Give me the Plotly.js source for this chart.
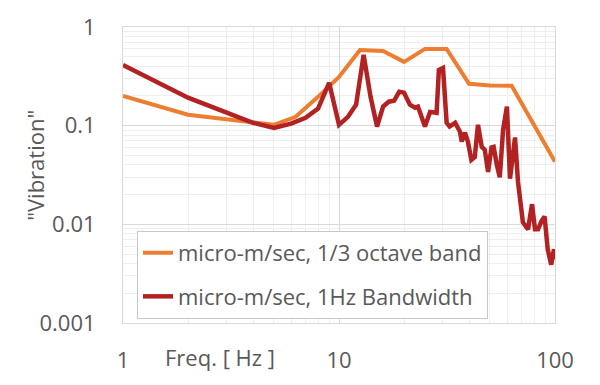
<!DOCTYPE html>
<html>
<head>
<meta charset="utf-8">
<script src="https://cdn.plot.ly/plotly-3.0.1.min.js"></script>
<style>html,body{margin:0;padding:0;background:#fff;}#chart{width:600px;height:385px;}</style>
</head>
<body>
<div id="chart"></div>
<script>
// 1/3 octave band series
const octaveFreq = [1, 2, 5, 6.3, 8, 10, 12.5, 16, 20, 25, 31.5, 40, 50, 63, 100];
const octaveVals = [0.20, 0.129, 0.102, 0.123, 0.196, 0.312, 0.585, 0.57, 0.443, 0.60, 0.60, 0.266, 0.255, 0.254, 0.043];

// 1 Hz bandwidth series
const bwFreq = [1, 2, 4, 5, 6, 7, 8, 9, 10, 11, 12, 13, 14, 15, 16, 17, 18, 19, 20, 21.3, 22.5, 23.2, 25, 26.4, 28.3, 29, 30.3, 31.5, 32.5, 34.5, 36.3, 37, 38.3, 39.5, 41, 42.5, 44, 45.8, 47.3, 49, 50.8, 52, 53.8, 55.5, 57.5, 59.9, 61.9, 65.3, 67.4, 68.9, 71, 75, 78.3, 80.8, 83.5, 86.5, 89.5, 92.5, 96, 98.9, 100];
const bwVals = [0.413, 0.192, 0.107, 0.095, 0.105, 0.12, 0.149, 0.272, 0.102, 0.123, 0.163, 0.521, 0.196, 0.098, 0.156, 0.175, 0.179, 0.221, 0.216, 0.163, 0.152, 0.156, 0.098, 0.138, 0.135, 0.368, 0.385, 0.107, 0.098, 0.107, 0.087, 0.069, 0.085, 0.069, 0.045, 0.048, 0.102, 0.061, 0.057, 0.034, 0.060, 0.061, 0.040, 0.030, 0.091, 0.156, 0.029, 0.076, 0.027, 0.019, 0.0105, 0.0089, 0.016, 0.0089, 0.0089, 0.0107, 0.012, 0.0056, 0.0039, 0.0056, 0.0044];

const seriesNames = ["micro-m/sec, 1/3 octave band", "micro-m/sec, 1Hz Bandwidth"];

const xTickVals = [1, 10, 100];
const xTickText = ["1", "10", "100"];
const yTickVals = [0.001, 0.01, 0.1, 1];
const yTickText = ["0.001", "0.01", "0.1", "1"];

const xTitle = "Freq. [ Hz ]";
const yTitle = "\"Vibration\"";

const FONT = "Open Sans, Liberation Sans, sans-serif";
const TXT = "#595959";

const traces = [
  {x: octaveFreq, y: octaveVals, name: seriesNames[0], type: "scatter", mode: "lines",
   line: {color: "#ED7D31", width: 4}, legendgroup: "a"},
  {x: bwFreq, y: bwVals, name: seriesNames[1], type: "scatter", mode: "lines",
   line: {color: "#B22222", width: 4.5}, legendgroup: "b"}
];

const layout = {
  width: 600, height: 385,
  margin: {l: 123, r: 45, t: 27, b: 62},
  paper_bgcolor: "#fff", plot_bgcolor: "#fff",
  font: {family: FONT, size: 22, color: TXT},
  showlegend: true,
  legend: {x: 0.0324, y: 0.311, xanchor: "left", yanchor: "top",
           bgcolor: "#fff", bordercolor: "#c8c8c8", borderwidth: 1,
           font: {family: FONT, size: 22, color: TXT},
           traceorder: "grouped", tracegroupgap: 12},
  xaxis: {type: "log", range: [0, 2], tickvals: xTickVals, ticktext: xTickText,
          showgrid: true, gridcolor: "#d9d9d9", gridwidth: 1,
          minor: {showgrid: true, gridcolor: "#eeeeee", dtick: "D1"},
          showline: true, linecolor: "#d9d9d9", mirror: true, zeroline: false,
          ticks: "", ticklabelstandoff: 18,
          tickfont: {family: FONT, size: 22, color: TXT}},
  yaxis: {type: "log", range: [-3, 0], tickvals: yTickVals, ticktext: yTickText,
          showgrid: true, gridcolor: "#d9d9d9", gridwidth: 1,
          minor: {showgrid: true, gridcolor: "#eeeeee", dtick: "D1"},
          showline: true, linecolor: "#d9d9d9", mirror: true, zeroline: false,
          ticks: "", ticklabelstandoff: 22,
          tickfont: {family: FONT, size: 22, color: TXT}},
  annotations: [
    {text: xTitle, xref: "paper", yref: "paper", x: 0.0926, y: -0.115,
     xanchor: "left", yanchor: "middle", showarrow: false,
     font: {family: FONT, size: 22, color: TXT}},
    {text: yTitle, xref: "paper", yref: "paper", x: -0.204, y: 0.534,
     xanchor: "center", yanchor: "middle", textangle: -90, showarrow: false,
     font: {family: FONT, size: 22, color: TXT}}
  ]
};

Plotly.newPlot("chart", traces, layout, {staticPlot: true, displayModeBar: false});
</script>
</body>
</html>
